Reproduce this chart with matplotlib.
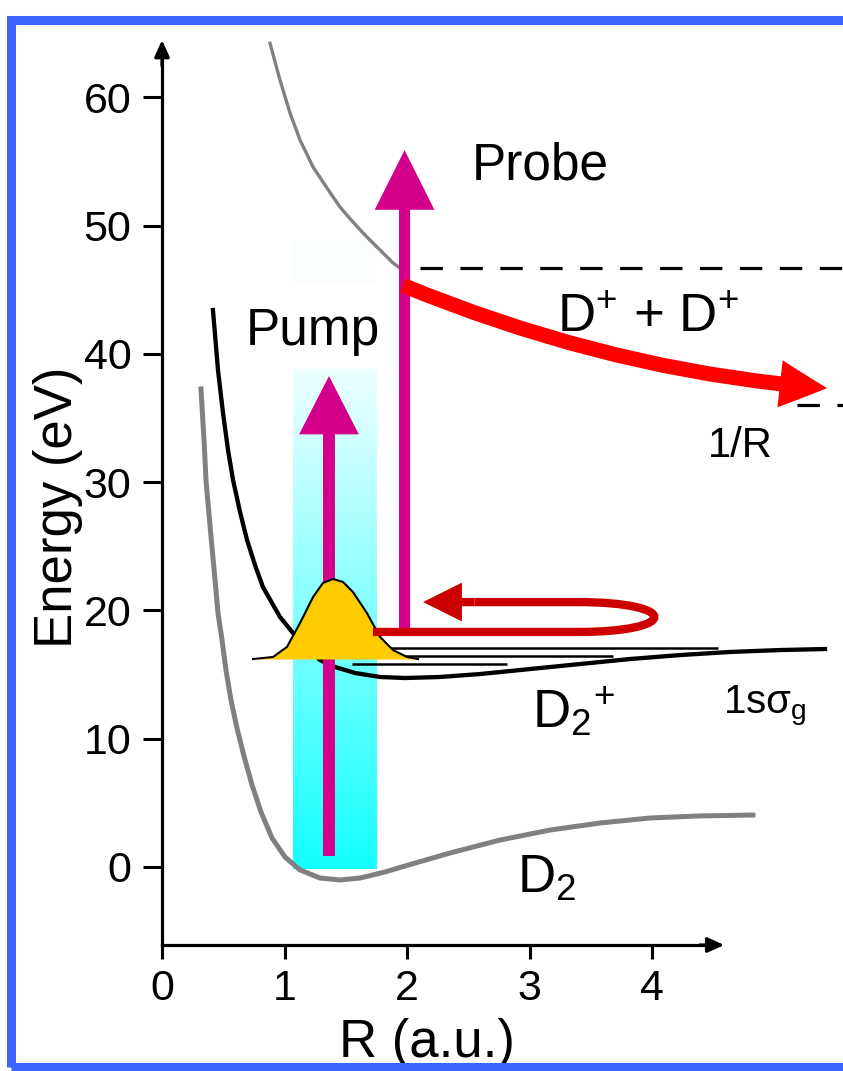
import numpy as np
import matplotlib.pyplot as plt
from matplotlib.colors import LinearSegmentedColormap
from matplotlib.patches import ArrowStyle, FancyArrowPatch, PathPatch, Rectangle
from matplotlib.path import Path

plt.rcParams["font.family"] = ["Liberation Sans", "DejaVu Sans"]
plt.rcParams["mathtext.fontset"] = "custom"
plt.rcParams["mathtext.rm"] = "Liberation Sans"
plt.rcParams["mathtext.it"] = "Liberation Sans"
plt.rcParams["mathtext.sf"] = "Liberation Sans"

# potential curves: internuclear distance R (a.u.) vs energy (eV)
d2_r = [0.318, 0.343, 0.359, 0.384, 0.408, 0.433, 0.457, 0.490, 0.522, 0.563,
        0.612, 0.669, 0.735, 0.808, 0.898, 1.004, 1.127, 1.290, 1.453, 1.616,
        1.820, 1.984, 2.351, 2.759, 3.167, 3.576, 3.984, 4.392, 4.824]
d2_e = [37.26, 33.28, 30.16, 27.44, 24.94, 22.37, 19.80, 17.69, 15.35, 13.02,
        10.83, 8.65, 6.39, 4.29, 2.26, 0.78, -0.23, -0.86, -1.01, -0.86,
        -0.39, 0.08, 1.09, 2.10, 2.88, 3.43, 3.82, 3.98, 4.05]

d2p_r = [0.416, 0.457, 0.498, 0.539, 0.580, 0.637, 0.694, 0.759, 0.824, 0.898,
         0.963, 1.069, 1.184, 1.290, 1.412, 1.576, 1.780, 1.984, 2.269, 2.596,
         3.004, 3.412, 3.820, 4.229, 4.637, 5.045, 5.412]
d2p_e = [43.41, 38.74, 35.39, 32.50, 30.16, 27.67, 25.49, 23.54, 21.82, 20.58,
         19.49, 18.24, 17.07, 16.13, 15.59, 15.12, 14.81, 14.73, 14.81, 15.04,
         15.43, 15.82, 16.21, 16.52, 16.76, 16.91, 16.99]

coul_r = [0.882, 0.963, 1.045, 1.127, 1.233, 1.347, 1.453, 1.559, 1.673, 1.780,
          1.886, 1.967]
coul_e = [64.20, 61.34, 58.77, 56.66, 54.56, 52.92, 51.44, 50.27, 49.10, 48.09,
          47.08, 46.53]

# nuclear wave packet on D2+
packet_r = [0.743, 0.906, 1.020, 1.127, 1.233, 1.314, 1.396, 1.478, 1.559, 1.673,
            1.780, 1.886, 2.000, 2.090]
packet_e = [16.21, 16.37, 17.15, 19.02, 21.04, 22.14, 22.45, 22.21, 21.43, 19.79,
            17.93, 16.91, 16.37, 16.21]

# vibrational levels
level_e = [17.07, 16.48, 15.86]
level_r0 = [1.837, 1.906, 1.551]
level_r1 = [4.539, 3.681, 2.816]

# Coulomb explosion limits
upper_limit_e, upper_limit_r = 46.7, 2.106
lower_limit_e, lower_limit_r = 36.0, 5.18

# pump and probe transitions
pump_r, pump_e = 1.363, (0.86, 38.27)
pump_band_r, pump_band_e = (1.069, 1.747), (-0.16, 38.8)
probe_r, probe_e = 1.98, (18.47, 55.88)

# D+ + D+ trajectory (quadratic Bezier: start, control, end)
coul_arrow_r = [1.967, 3.698, 5.429]
coul_arrow_e = [45.34, 38.54, 37.33]

# bound wave packet oscillation loop
loop_r = [1.722, 3.388, 4.229, 4.229, 3.388, 2.55]
loop_e = [18.32, 18.32, 18.32, 20.65, 20.65, 20.65]
loop_tip_r = 2.131

xmax, ymin, ymax = 5.559, -6.08, 65.24
x_axis_end, y_axis_end = 4.59, 64.46

MAGENTA = "#D4008C"

fig = plt.figure(figsize=(8.43, 10.71), dpi=100)
ax = fig.add_axes([0.19217, 0.11765, 0.80783, 0.85434])

# pump bandwidth glow
glow = LinearSegmentedColormap.from_list("glow", ["#14FFFF", "#EEFFFF"])
ax.imshow(np.linspace(0, 1, 256).reshape(-1, 1), cmap=glow, origin="lower",
          aspect="auto", interpolation="bilinear",
          extent=[pump_band_r[0], pump_band_r[1], pump_band_e[0], pump_band_e[1]],
          zorder=1)
ax.add_patch(Rectangle((pump_band_r[0], 45.5), pump_band_r[1] - pump_band_r[0], 3.4,
                       color="#FAFEFE", lw=0, zorder=1))

ax.plot(d2_r, d2_e, color="#808080", lw=3.6, solid_joinstyle="round", zorder=2)
ax.plot(coul_r, coul_e, color="#808080", lw=2.4, solid_joinstyle="round", zorder=2)
ax.plot(d2p_r, d2p_e, color="black", lw=3.1, solid_joinstyle="round", zorder=3)

ax.hlines(level_e, level_r0, level_r1, color="black", lw=1.8, zorder=3)

ax.hlines(upper_limit_e, upper_limit_r, xmax, color="black", lw=2.3,
          linestyles=[(0, (7, 5.5))], zorder=2)
ax.hlines(lower_limit_e, lower_limit_r, xmax, color="black", lw=2.3,
          linestyles=[(0, (7, 5.5))], zorder=2)

pump = FancyArrowPatch((pump_r, pump_e[0]), (pump_r, pump_e[1]),
                       arrowstyle=ArrowStyle.Simple(head_length=42, head_width=43,
                                                    tail_width=8.6),
                       mutation_scale=1, shrinkA=0, shrinkB=0,
                       color=MAGENTA, lw=0, zorder=4)
ax.add_patch(pump)

ax.fill_between(packet_r, packet_e[0], packet_e, color="#FFCC00", lw=0, zorder=5)
ax.plot(packet_r, packet_e, color="black", lw=1.5, zorder=5)

probe = FancyArrowPatch((probe_r, probe_e[0]), (probe_r, probe_e[1]),
                        arrowstyle=ArrowStyle.Simple(head_length=43, head_width=43,
                                                     tail_width=8),
                        mutation_scale=1, shrinkA=0, shrinkB=0,
                        color=MAGENTA, lw=0, zorder=6)
ax.add_patch(probe)

loop = Path(list(zip(loop_r, loop_e)),
            [Path.MOVETO, Path.LINETO, Path.CURVE4, Path.CURVE4, Path.CURVE4,
             Path.LINETO])
ax.add_patch(PathPatch(loop, fill=False, edgecolor="#CC0000", lw=6,
                       capstyle="butt", zorder=7))
ax.add_patch(FancyArrowPatch((loop_r[-1], loop_e[-1]), (loop_tip_r, loop_e[-1]),
                             arrowstyle=ArrowStyle.Simple(head_length=28, head_width=28,
                                                          tail_width=6),
                             mutation_scale=1, shrinkA=0, shrinkB=0,
                             color="#CC0000", lw=0, zorder=7))

coul_path = Path(list(zip(coul_arrow_r, coul_arrow_e)),
                 [Path.MOVETO, Path.CURVE3, Path.CURVE3])
ax.add_patch(FancyArrowPatch(path=coul_path,
                             arrowstyle=ArrowStyle.Simple(head_length=34, head_width=34,
                                                          tail_width=10.8),
                             mutation_scale=1, color="#FF0000", lw=0, zorder=8))

# labels
ax.text(2.531, 53.55, "Probe", fontsize=37, ha="left", va="baseline")
ax.text(0.686, 40.69, "Pump", fontsize=37, ha="left", va="baseline")
ax.text(3.224, 41.70, "D$^{+}$ + D$^{+}$", fontsize=38, ha="left", va="baseline")
ax.text(4.457, 31.96, "1/R", fontsize=30, ha="left", va="baseline")
ax.text(3.020, 10.83, "D$_{2}$$^{+}$", fontsize=38, ha="left", va="baseline")
ax.text(4.580, 12.00, r"1sσ$_\mathrm{g}$", fontsize=29, ha="left", va="baseline")
ax.text(2.898, -2.03, "D$_{2}$", fontsize=38, ha="left", va="baseline")

# axes with arrow heads
ax.set_xlim(0, xmax)
ax.set_ylim(ymin, ymax)
for side in ("top", "right"):
    ax.spines[side].set_visible(False)
ax.spines["left"].set_bounds(ymin, y_axis_end - 1)
ax.spines["bottom"].set_bounds(0, x_axis_end - 0.1)
for side in ("left", "bottom"):
    ax.spines[side].set_linewidth(2.3)
ax.annotate("", xy=(0, y_axis_end), xytext=(0, y_axis_end - 2),
            arrowprops=dict(arrowstyle="-|>,head_length=1.0,head_width=0.45",
                            mutation_scale=10, color="black", lw=2.3,
                            shrinkA=0, shrinkB=0), annotation_clip=False)
ax.annotate("", xy=(x_axis_end, ymin), xytext=(x_axis_end - 0.2, ymin),
            arrowprops=dict(arrowstyle="-|>,head_length=1.0,head_width=0.45",
                            mutation_scale=10, color="black", lw=2.3,
                            shrinkA=0, shrinkB=0), annotation_clip=False)

ax.set_xticks([0, 1, 2, 3, 4])
ax.set_yticks([0, 10, 20, 30, 40, 50, 60])
ax.tick_params(axis="y", direction="out", length=14, width=2.2, labelsize=31, pad=8)
ax.tick_params(axis="x", direction="out", length=10, width=2.2, labelsize=31, pad=7)

ax.set_xlabel("R (a.u.)", fontsize=38, va="baseline")
ax.xaxis.set_label_coords(0.389, -0.1224)
ax.set_ylabel("Energy (eV)", fontsize=38, va="baseline")
ax.yaxis.set_label_coords(-0.1322, 0.4787)

# frame around the figure
fig.add_artist(Rectangle((0.0136, 0.0037), 1.05, 0.9776, transform=fig.transFigure,
                         fill=False, edgecolor="#3C64FF", lw=6.5, clip_on=False))

fig.savefig("out.png", dpi=100)
